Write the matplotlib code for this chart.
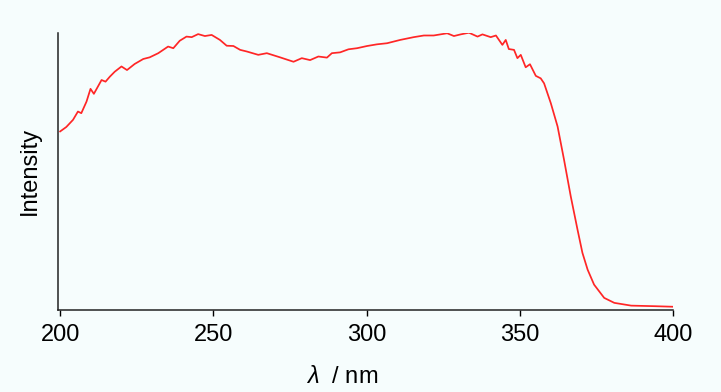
import matplotlib
matplotlib.use("Agg")
import matplotlib.pyplot as plt

plt.rcParams['font.family'] = ['Liberation Sans', 'DejaVu Sans']
plt.rcParams['mathtext.fontset'] = 'custom'
plt.rcParams['mathtext.it'] = 'Liberation Sans:italic'
plt.rcParams['mathtext.rm'] = 'Liberation Sans'

# Emission spectrum (normalised intensity vs wavelength)
wavelength = [200.0, 202.0, 204.2, 205.8, 206.9, 208.6, 209.9, 211.0, 213.5, 214.8,
              216.2, 217.8, 220.0, 221.8, 224.3, 227.1, 229.2, 232.0, 235.2, 236.9,
              239.0, 241.2, 242.9, 245.0, 247.2, 249.4, 252.1, 254.3, 256.5, 258.7,
              260.9, 264.6, 267.4, 271.7, 276.1, 278.8, 281.5, 284.2, 287.0, 288.6,
              291.3, 294.0, 296.8, 300.1, 303.3, 306.6, 310.9, 315.3, 318.6, 321.8,
              326.2, 328.4, 330.6, 333.3, 336.1, 337.7, 340.4, 342.1, 344.2, 345.3,
              346.3, 348.0, 349.1, 350.2, 351.8, 353.2, 355.1, 356.7, 357.8, 360.0,
              362.2, 364.3, 366.5, 368.7, 370.3, 372.0, 374.1, 377.4, 380.7, 386.2,
              393.8, 399.8]
intensity = [0.644, 0.660, 0.686, 0.716, 0.710, 0.752, 0.798, 0.780, 0.830, 0.824,
             0.842, 0.860, 0.879, 0.866, 0.888, 0.906, 0.912, 0.927, 0.951, 0.945,
             0.972, 0.987, 0.985, 0.996, 0.989, 0.993, 0.975, 0.954, 0.953, 0.939,
             0.933, 0.921, 0.927, 0.912, 0.896, 0.909, 0.902, 0.915, 0.911, 0.927,
             0.930, 0.941, 0.945, 0.953, 0.959, 0.963, 0.975, 0.985, 0.991, 0.991,
             0.999, 0.989, 0.995, 1.001, 0.987, 0.995, 0.985, 0.991, 0.957, 0.975,
             0.942, 0.939, 0.909, 0.921, 0.876, 0.887, 0.845, 0.836, 0.818, 0.746,
             0.662, 0.542, 0.409, 0.289, 0.205, 0.144, 0.090, 0.042, 0.024, 0.014,
             0.012, 0.010]

xticks = [200, 250, 300, 350, 400]

bg = '#f6fdfd'
fig = plt.figure(figsize=(7.21, 3.92), dpi=100, facecolor=bg)
ax = fig.add_axes([58 / 721, (392 - 309.5) / 392, (673.5 - 58) / 721, (309.5 - 33) / 392])
ax.set_facecolor(bg)

ax.plot(wavelength, intensity, color='#ff2626', lw=1.25)

ax.set_xlim(199.3, 400)
ax.set_ylim(0, 1.0)
ax.set_xticks(xticks)
ax.set_xticklabels([str(t) for t in xticks])
ax.set_yticks([])
ax.tick_params(axis='x', direction='out', length=4.5, width=1.0, labelsize=17, pad=6)

for side in ('top', 'right'):
    ax.spines[side].set_visible(False)
for side in ('left', 'bottom'):
    ax.spines[side].set_linewidth(1.1)
    ax.spines[side].set_color('#222222')

ax.set_ylabel('Intensity', fontsize=17, labelpad=12)
ax.set_xlabel(r'$\mathit{\lambda}$  / nm', fontsize=17, labelpad=16)
ax.xaxis.set_label_coords(0.462, -0.205)

fig.savefig('out.png', dpi=100, facecolor=bg)
